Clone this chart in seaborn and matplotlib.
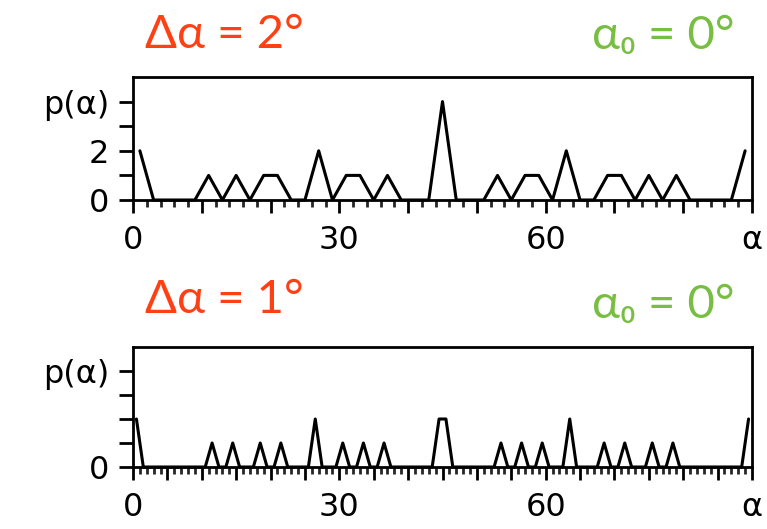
import numpy as np
import pandas as pd
import matplotlib
matplotlib.use("Agg")
import matplotlib.pyplot as plt
import seaborn as sns

# p(alpha) counts, bin width 2 deg (centres 1, 3, ..., 89)
p_2deg = [2, 0, 0, 0, 0, 1, 0, 1, 0, 1,
          1, 0, 0, 2, 0, 1, 1, 0, 1, 0,
          0, 0, 4, 0, 0, 0, 1, 0, 1, 1,
          0, 2, 0, 0, 1, 1, 0, 1, 0, 1,
          0, 0, 0, 0, 2]
# p(alpha) counts, bin width 1 deg (centres 0.5, 1.5, ..., 89.5)
p_1deg = [2, 0, 0, 0, 0, 0, 0, 0, 0, 0,
          0, 1, 0, 0, 1, 0, 0, 0, 1, 0,
          0, 1, 0, 0, 0, 0, 2, 0, 0, 0,
          1, 0, 0, 1, 0, 0, 1, 0, 0, 0,
          0, 0, 0, 0, 2, 2, 0, 0, 0, 0,
          0, 0, 0, 1, 0, 0, 1, 0, 0, 1,
          0, 0, 0, 2, 0, 0, 0, 0, 1, 0,
          0, 1, 0, 0, 0, 1, 0, 0, 1, 0,
          0, 0, 0, 0, 0, 0, 0, 0, 0, 2]

bin_widths = [2, 1]
titles = ["Δα = 2°", "Δα = 1°"]
alpha0_label = "α₀ = 0°"
x_labels = {0: "0", 30: "30", 60: "60", 90: "α"}
y_labels_top = {0: "0", 2: "2", 4: "p(α)"}
y_labels_bottom = {0: "0", 4: "p(α)"}

sns.set_theme(style="ticks")
plt.rcParams['font.family'] = ['DejaVu Sans']

fig = plt.figure(figsize=(7.67, 5.29), dpi=100)
ax_top = fig.add_axes([133 / 767, 1 - 200 / 529, 619 / 767, 123 / 529])
ax_bot = fig.add_axes([133 / 767, 1 - 467 / 529, 619 / 767, 120 / 529])

panels = [(ax_top, p_2deg, bin_widths[0], y_labels_top, 10, 2),
          (ax_bot, p_1deg, bin_widths[1], y_labels_bottom, 5, 1)]

for ax, counts, w, ylab, major, minor in panels:
    centres = np.arange(len(counts)) * w + w / 2
    df = pd.DataFrame({"alpha": centres, "p": counts})
    sns.lineplot(data=df, x="alpha", y="p", ax=ax, color="black",
                 linewidth=2.2, clip_on=False)
    ax.set_xlim(0, 90)
    ax.set_ylim(0, 5)
    ax.set_xlabel("")
    ax.set_ylabel("")

    xt = np.arange(0, 91, major)
    ax.set_xticks(xt)
    ax.set_xticklabels([x_labels.get(int(t), "") for t in xt])
    ax.set_xticks(np.arange(0, 91, minor), minor=True)
    ax.set_yticks(range(5))
    ax.set_yticklabels([ylab.get(t, "") for t in range(5)])

    ax.tick_params(axis="x", which="major", direction="out", length=9,
                   width=2, pad=9, labelsize=23, colors="black")
    ax.tick_params(axis="x", which="minor", direction="out", length=5,
                   width=2)
    ax.tick_params(axis="y", which="major", direction="out", length=10,
                   width=2, pad=7, labelsize=23, colors="black")
    for s in ax.spines.values():
        s.set_visible(True)
        s.set_linewidth(2)
        s.set_color("black")

red = "#FF4015"
green = "#78BE43"
title_font = ["Lato", "DejaVu Sans"]
fig.text(145 / 767, 1 - 35 / 529, titles[0], color=red, fontsize=34,
         family=title_font, ha="left", va="center")
fig.text(735 / 767, 1 - 36 / 529, alpha0_label, color=green, fontsize=34,
         family=title_font, ha="right", va="center")
fig.text(145 / 767, 1 - 300 / 529, titles[1], color=red, fontsize=34,
         family=title_font, ha="left", va="center")
fig.text(735 / 767, 1 - 305 / 529, alpha0_label, color=green, fontsize=34,
         family=title_font, ha="right", va="center")

fig.savefig("out.png", dpi=100)
